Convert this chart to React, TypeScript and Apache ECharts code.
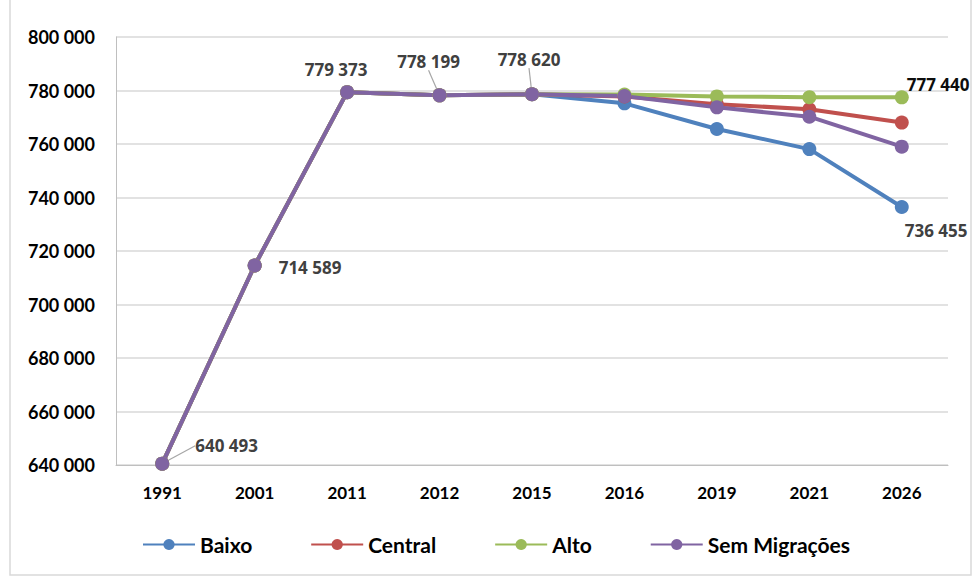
import React, { useEffect, useRef } from "react";
import * as echarts from "echarts";

const categories = ["1991", "2001", "2011", "2012", "2015", "2016", "2019", "2021", "2026"];
const baixo = [640493, 714589, 779373, 778199, 778620, 775200, 765600, 758100, 736455];
const central = [640493, 714589, 779373, 778199, 778620, 777800, 774900, 773000, 768000];
const alto = [640493, 714589, 779373, 778199, 778620, 778500, 777800, 777500, 777440];
const semMigracoes = [640493, 714589, 779373, 778199, 778620, 777900, 773700, 770200, 759000];

const fmt = (n: number) => String(Math.round(n)).replace(/\B(?=(\d{3})+(?!\d))/g, " ");

const labelFont = {
  fontFamily: "'Open Sans', sans-serif",
  fontWeight: 700 as const,
  fontSize: 17,
  color: "#404040",
};

export default function App() {
  const ref = useRef<HTMLDivElement>(null);
  useEffect(() => {
    if (!ref.current) return;
    const chart = echarts.init(ref.current, null, { renderer: "svg" });

    const purpleData = semMigracoes.map((v, i) => {
      const item: any = { value: v };
      if (i === 0) {
        item.label = { show: true, position: "right", ...labelFont };
        item.labelLine = { show: true };
      } else if (i === 1) {
        item.label = { show: true, position: "right", ...labelFont };
      } else if (i === 2) {
        item.label = { show: true, position: "top", ...labelFont };
      } else if (i === 3) {
        item.label = { show: true, position: "top", ...labelFont };
        item.labelLine = { show: true };
      } else if (i === 4) {
        item.label = { show: true, position: "top", ...labelFont };
        item.labelLine = { show: true };
      }
      return item;
    });

    const altoData = alto.map((v, i) =>
      i === alto.length - 1
        ? { value: v, label: { show: true, position: [12, -14], ...labelFont, color: "#0d0d0d" } }
        : { value: v }
    );
    const baixoData = baixo.map((v, i) =>
      i === baixo.length - 1
        ? { value: v, label: { show: true, position: [10, 22], ...labelFont } }
        : { value: v }
    );

    const mk = (name: string, color: string, data: any[], extra: any = {}) => ({
      name,
      type: "line",
      data,
      symbol: "circle",
      symbolSize: 14,
      itemStyle: { color },
      lineStyle: { color, width: 4 },
      label: { show: false },
      labelLine: { show: false, lineStyle: { color: "#a6a6a6", width: 1.2 } },
      emphasis: { disabled: true },
      ...extra,
    });

    chart.setOption({
      animation: false,
      backgroundColor: "#ffffff",
      graphic: [
        {
          type: "rect",
          shape: { x: 10, y: -2, width: 961, height: 577 },
          style: { fill: "none", stroke: "#d9d9d9", lineWidth: 1.5 },
          silent: true,
        },
      ],
      grid: { left: 116, right: 24, top: 37, bottom: 112, containLabel: false },
      legend: {
        bottom: 17,
        left: 137,
        itemWidth: 52,
        itemHeight: 14,
        itemGap: 58,
        textStyle: {
          fontFamily: "Lato, sans-serif",
          fontWeight: 700,
          fontSize: 21,
          color: "#000000",
        },
        data: ["Baixo", "Central", "Alto", "Sem Migrações"],
      },
      xAxis: {
        type: "category",
        data: categories,
        boundaryGap: true,
        axisLine: { show: true, lineStyle: { color: "#bfbfbf", width: 1 } },
        axisTick: { show: false },
        axisLabel: {
          margin: 19,
          fontFamily: "Lato, sans-serif",
          fontWeight: 700,
          fontSize: 17,
          color: "#000000",
        },
      },
      yAxis: {
        type: "value",
        min: 640000,
        max: 800000,
        interval: 20000,
        axisLine: { show: true, lineStyle: { color: "#bfbfbf", width: 1 } },
        axisTick: { show: false },
        splitLine: { lineStyle: { color: "#d9d9d9", width: 1.5 } },
        axisLabel: {
          margin: 21,
          fontFamily: "Lato, sans-serif",
          fontWeight: 700,
          fontSize: 18,
          color: "#000000",
          formatter: (v: number) => fmt(v),
        },
      },
      series: [
        mk("Baixo", "#4f81bd", baixoData, {
          label: { show: false, formatter: (p: any) => fmt(p.value) },
        }),
        mk("Central", "#c0504d", central),
        mk("Alto", "#9bbb59", altoData, {
          label: { show: false, formatter: (p: any) => fmt(p.value) },
        }),
        mk("Sem Migrações", "#8064a2", purpleData, {
          label: { show: false, formatter: (p: any) => fmt(p.value) },
          labelLayout: (params: any) => {
            if (params.dataIndex === 0) return { dx: 21, dy: -18 };
            if (params.dataIndex === 1) return { dx: 12, dy: 2 };
            if (params.dataIndex === 2) return { dx: -11, dy: -2 };
            if (params.dataIndex === 3) return { dx: -11, dy: -13 };
            if (params.dataIndex === 4) return { dx: -3, dy: -14 };
            return {};
          },
        }),
      ],
    });
    return () => chart.dispose();
  }, []);
  return <div ref={ref} style={{ width: 972, height: 577, position: "absolute", left: 0, top: 0 }} />;
}
